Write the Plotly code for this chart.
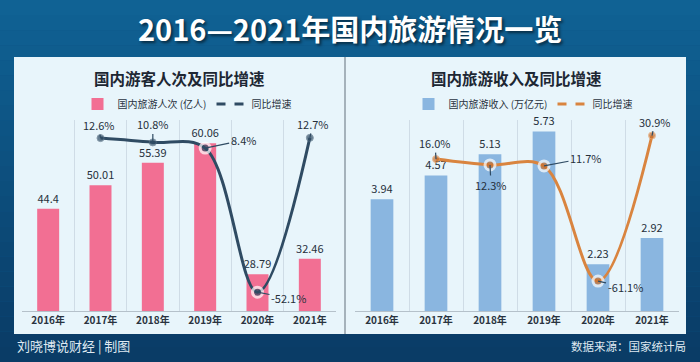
import plotly.graph_objects as go

W, H = 700, 362
FONT = "Noto Sans CJK SC"

years = ["2016年", "2017年", "2018年", "2019年", "2020年", "2021年"]
visitors = [44.4, 50.01, 55.39, 60.06, 28.79, 32.46]
visitors_growth = [None, 12.6, 10.8, 8.4, -52.1, 12.7]
revenue = [3.94, 4.57, 5.13, 5.73, 2.23, 2.92]
revenue_growth = [None, 16.0, 12.3, 11.7, -61.1, 30.9]

def px_x(p):
    return p / W

def px_y(p):
    return 1 - p / H

PINK = "#f26f93"
BLUE = "#8ab6e0"
NAVY = "#2f4b63"
ORANGE = "#d9843f"
TXT = "#26303b"

fig = go.Figure()

# ---- left chart ----
fig.add_trace(go.Bar(
    x=years, y=visitors, name="国内旅游人次 (亿人)", marker=dict(color=PINK, line=dict(width=0)),
    width=0.42, text=[f"{v:g}" for v in visitors], textposition="outside", cliponaxis=False,
    constraintext="none", textfont=dict(size=11, color=TXT, family=FONT),
    xaxis="x", yaxis="y", legend="legend", showlegend=True))
fig.add_trace(go.Scatter(
    x=years, y=visitors_growth, mode="lines+markers", line=dict(color=NAVY, width=3, shape="spline", smoothing=1.0),
    marker=dict(size=[0, 7, 7, 10, 10, 7], color=NAVY,
                line=dict(color=["white", "#5a7286", "#5a7286", "white", "white", "#5a7286"], width=[0, 1, 1, 3, 3, 1])),
    xaxis="x", yaxis="y2", showlegend=False, cliponaxis=False, connectgaps=False))
fig.add_trace(go.Scatter(x=[None], y=[None], mode="lines", name="同比增速",
                         line=dict(color=NAVY, width=3, dash="dash"), xaxis="x", yaxis="y2", legend="legend"))

# ---- right chart ----
fig.add_trace(go.Bar(
    x=years, y=revenue, name="国内旅游收入 (万亿元)", marker=dict(color=BLUE, line=dict(width=0)),
    width=0.42, text=[f"{v:.2f}" for v in revenue], textposition="outside", cliponaxis=False,
    constraintext="none", textfont=dict(size=11, color=TXT, family=FONT),
    xaxis="x2", yaxis="y3", legend="legend2", showlegend=True))
fig.add_trace(go.Scatter(
    x=years, y=revenue_growth, mode="lines+markers", line=dict(color=ORANGE, width=3, shape="spline", smoothing=1.0),
    marker=dict(size=[0, 7, 10, 10, 10, 7], color="#c8702e",
                line=dict(color=["white", "#e9a46c", "white", "white", "white", "#e9a46c"], width=[0, 1, 3, 3, 3, 1])),
    xaxis="x2", yaxis="y4", showlegend=False, cliponaxis=False))
fig.add_trace(go.Scatter(x=[None], y=[None], mode="lines", name="同比增速",
                         line=dict(color=ORANGE, width=3, dash="dash"), xaxis="x2", yaxis="y4", legend="legend2"))

# growth labels
ann = []
def glabel(xref, yref, x, y, ax, ay):
    ann.append(dict(x=x, y=y, xref=xref, yref=yref, text=f"{y:.1f}%", showarrow=True, arrowhead=0,
                    arrowwidth=1.2, arrowcolor=NAVY, ax=ax, ay=ay,
                    font=dict(size=11, color=TXT, family=FONT)))

left_off = {1: (-2, -13), 2: (0, -18), 3: (38, -8), 4: (31, 6), 5: (3, -14)}
for i, (ax_, ay_) in left_off.items():
    glabel("x", "y2", years[i], visitors_growth[i], ax_, ay_)
right_off = {1: (-1, -16), 2: (1, 20), 3: (42, -8), 4: (27, 6), 5: (3, -14)}
for i, (ax_, ay_) in right_off.items():
    glabel("x2", "y4", years[i], revenue_growth[i], ax_, ay_)

def ptext(text, x, y, size, color, xanchor="center", **kw):
    d = dict(text=text, x=px_x(x), y=px_y(y), xref="paper", yref="paper", xanchor=xanchor,
             yanchor="middle", showarrow=False, font=dict(size=size, color=color, family=FONT, **kw))
    ann.append(d)

ptext("<b>2016—2021年国内旅游情况一览</b>", 350, 28, 29, "white", shadow="2px 2px 3px rgba(0,0,0,0.55)")
ptext("<b>国内游客人次及同比增速</b>", 179, 78, 15.5, "#1d2733")
ptext("<b>国内旅游收入及同比增速</b>", 516, 78, 15.5, "#1d2733")
ptext("刘晓博说财经 | 制图", 15, 345, 13, "#dfe9f1", xanchor="left")
ptext("数据来源：国家统计局", 688, 346, 11.5, "#dfe9f1", xanchor="right")

# background bands and panel
shapes = []
top = (16, 98, 148)
bot = (10, 60, 102)
n = 24
for k in range(n):
    t = k / (n - 1)
    c = tuple(int(top[j] + (bot[j] - top[j]) * t) for j in range(3))
    shapes.append(dict(type="rect", xref="paper", yref="paper", x0=0, x1=1,
                       y0=1 - (k + 1) / n, y1=1 - k / n, fillcolor=f"rgb{c}", line=dict(width=0), layer="below"))
shapes.append(dict(type="rect", xref="paper", yref="paper", x0=px_x(14), x1=px_x(686),
                   y0=px_y(334), y1=px_y(57), fillcolor="#e8f5fb", line=dict(width=0), layer="below"))
shapes.append(dict(type="line", xref="paper", yref="paper", x0=px_x(345), x1=px_x(345),
                   y0=px_y(334), y1=px_y(57), line=dict(color="#a5b2bb", width=2), layer="below"))

ydom = [px_y(311), px_y(120)]
xcommon = dict(type="category", tickson="boundaries", showgrid=True, gridcolor="#cfdce6", gridwidth=1,
               showline=True, linecolor="#b5c1ca", linewidth=1, ticks="", zeroline=False,
               tickfont=dict(size=10, color="#2a3340", family=FONT, weight="bold"), fixedrange=True)
ycommon = dict(visible=False, showgrid=False, zeroline=False, fixedrange=True)

fig.update_layout(
    width=W, height=H, margin=dict(l=0, r=0, t=0, b=0, pad=0, autoexpand=False),
    paper_bgcolor="#0d5586", plot_bgcolor="rgba(0,0,0,0)",
    font=dict(family=FONT),
    xaxis=dict(domain=[px_x(22), px_x(336)], anchor="y", **xcommon),
    yaxis=dict(domain=ydom, range=[20, 65.6], anchor="x", **ycommon),
    yaxis2=dict(overlaying="y", range=[-60, 20.2], anchor="x", side="right", **ycommon),
    xaxis2=dict(domain=[px_x(355), px_x(679)], anchor="y3", **xcommon),
    yaxis3=dict(domain=ydom, range=[1, 6.03], anchor="x2", **ycommon),
    yaxis4=dict(overlaying="y3", range=[-80, 40.7], anchor="x2", side="right", **ycommon),
    legend=dict(orientation="h", x=px_x(187), xanchor="center", y=px_y(104), yanchor="middle",
                bgcolor="rgba(0,0,0,0)", font=dict(size=10, color="#2a3340", family=FONT),
                itemwidth=30, tracegroupgap=0),
    legend2=dict(orientation="h", x=px_x(523), xanchor="center", y=px_y(104), yanchor="middle",
                 bgcolor="rgba(0,0,0,0)", font=dict(size=10, color="#2a3340", family=FONT),
                 itemwidth=30, tracegroupgap=0),
    annotations=ann, shapes=shapes, bargap=0.58,
)

fig.write_html("out.html", config={"displayModeBar": False},
               post_script="document.body.style.margin='0';document.body.style.overflow='hidden';")
